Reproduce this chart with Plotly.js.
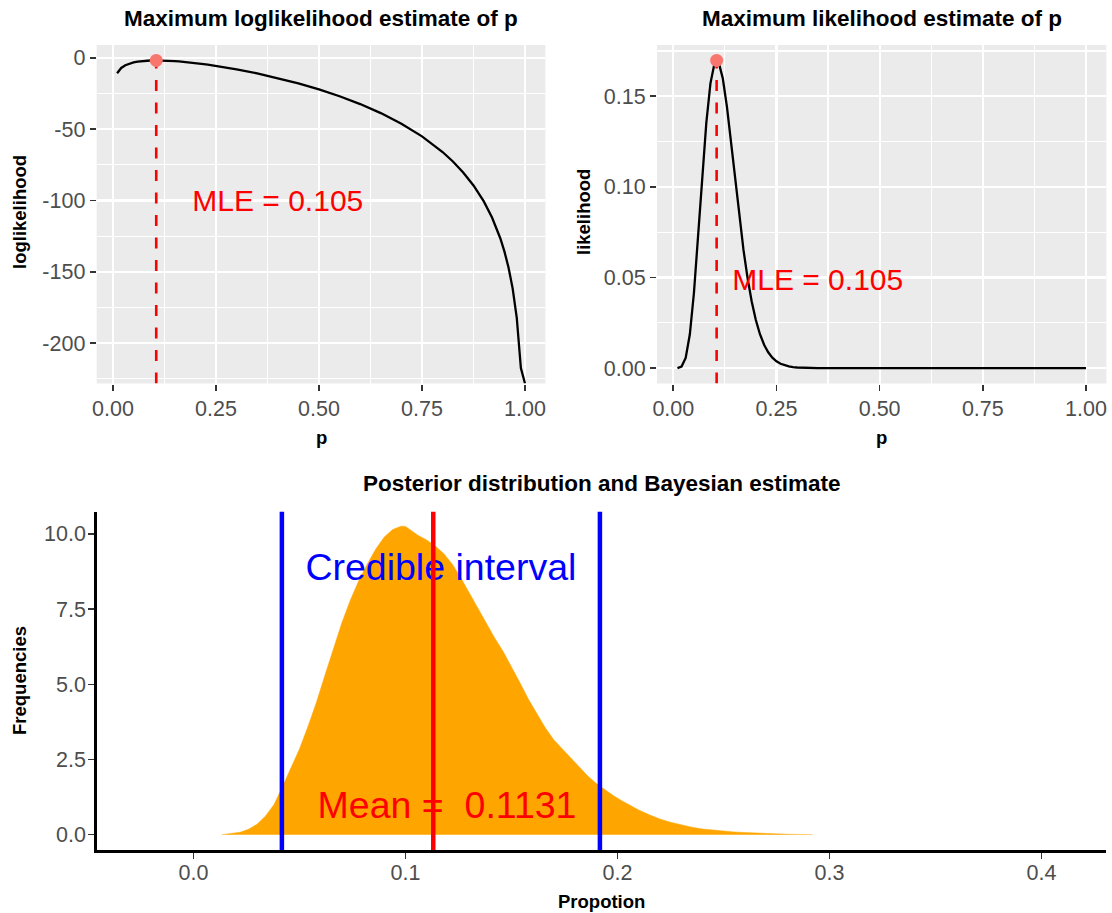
<!DOCTYPE html>
<html><head><meta charset="utf-8">
<script src="https://cdn.plot.ly/plotly-3.0.1.min.js"></script>
<style>html,body{margin:0;padding:0;background:#fff}#chart{width:1112px;height:913px}</style>
</head><body><div id="chart"></div>
<script>
// ---------- data: likelihood panels ----------
const p = [0.01,0.02,0.03,0.04,0.05,0.06,0.07,0.08,0.09,0.10,0.11,0.12,0.13,0.14,0.15,0.16,0.17,0.18,0.19,0.20,
  0.21,0.22,0.23,0.24,0.25,0.26,0.27,0.28,0.29,0.30,0.35,0.40,0.45,0.50,0.55,0.60,0.65,0.70,0.75,0.80,
  0.825,0.85,0.875,0.90,0.92,0.94,0.95,0.96,0.97,0.98,0.99,1.00];
const loglik = [-10.737,-7.095,-5.186,-3.988,-3.183,-2.629,-2.250,-2.000,-1.851,-1.782,-1.780,-1.834,-1.937,-2.082,-2.264,-2.480,-2.728,-3.003,-3.304,-3.630,
  -3.979,-4.349,-4.741,-5.152,-5.583,-6.032,-6.499,-6.984,-7.487,-8.007,-10.862,-14.143,-17.874,-22.103,-26.904,-32.389,-38.719,-46.136,-55.020,-66.013,
  -72.639,-80.321,-89.446,-100.657,-111.906,-126.448,-135.683,-147.001,-161.610,-182.227,-217.517,-Infinity];
const likelihood = [0.0000217,0.000829,0.005595,0.018535,0.041453,0.072122,0.10543,0.13536,0.15716,0.16832,0.16871,0.15979,0.14419,0.12474,0.10391,0.08371,0.06538,0.04965,0.03673,0.02652,
  0.01871,0.01292,0.008734,0.005787,0.003763,0.002401,0.001505,0.000926,0.000560,0.000333,0.000019,0.0000007,0,0,0,0,0,0,0,0,
  0,0,0,0,0,0,0,0,0,0,0,0];
const mle = 0.105;
const mleLoglik = -1.7732;
const mleLik = 0.16981;

// ---------- data: posterior panel ----------
const postX = [0.0135,0.018,0.022,0.026,0.030,0.034,0.038,0.042,0.046,0.050,0.054,0.058,0.062,0.066,0.070,0.074,0.078,0.082,0.086,0.090,
  0.094,0.098,0.100,0.103,0.106,0.110,0.114,0.118,0.122,0.126,0.130,0.134,0.138,0.142,0.146,0.150,0.154,0.158,0.162,0.166,
  0.170,0.174,0.178,0.182,0.186,0.190,0.194,0.198,0.202,0.206,0.210,0.215,0.220,0.225,0.230,0.235,0.240,0.245,0.250,0.255,
  0.260,0.265,0.270,0.275,0.280,0.285,0.292];
const postDensity = [0,0.03,0.08,0.18,0.35,0.62,1.0,1.6,2.2,2.85,3.6,4.4,5.3,6.2,7.05,7.8,8.45,9.0,9.5,9.9,
  10.15,10.26,10.25,10.1,9.95,9.8,9.6,9.35,9.0,8.55,8.05,7.5,7.0,6.55,6.1,5.6,5.05,4.5,4.0,3.55,
  3.15,2.85,2.55,2.25,1.95,1.7,1.5,1.3,1.13,0.97,0.82,0.66,0.52,0.41,0.32,0.25,0.19,0.15,0.12,0.09,
  0.07,0.05,0.035,0.025,0.015,0.008,0];
const credInterval = [0.0417, 0.1917];
const postMean = 0.1131;

// ---------- tick labels ----------
const xTickVals12 = [0, 0.25, 0.5, 0.75, 1];
const xTickText12 = ['0.00','0.25','0.50','0.75','1.00'];
const yTickVals1 = [-200,-150,-100,-50,0];
const yTickText1 = ['-200','-150','-100','-50','0'];
const yTickVals2 = [0, 0.05, 0.10, 0.15];
const yTickText2 = ['0.00','0.05','0.10','0.15'];
const xTickVals3 = [0, 0.1, 0.2, 0.3, 0.4];
const xTickText3 = ['0.0','0.1','0.2','0.3','0.4'];
const yTickVals3 = [0, 2.5, 5, 7.5, 10];
const yTickText3 = ['0.0','2.5','5.0','7.5','10.0'];

// ---------- layout settings ----------
const W = 1112, H = 913;
const FONT = 'Liberation Sans, Arial, Helvetica, sans-serif';
const xRange12 = [-0.0395, 1.0495];
const yRange1 = [-228.31, 9.01];
const yRange2 = [-0.00849, 0.1783];
const xRange3 = [-0.0455, 0.4304];
const yRange3 = [-0.51, 10.74];
const px = v => v / W;
const py = v => 1 - v / H;

const loglikPlot = loglik.map(v => v === -Infinity ? yRange1[0] : v);

function ggAxis(domain, range, tickvals, ticktext, minor0, minorStep) {
  return {
    domain, range, tickmode: 'array', tickvals, ticktext,
    ticks: 'outside', ticklen: 6, tickwidth: 1.6, tickcolor: '#333333',
    tickfont: {family: FONT, size: 21.5, color: '#4D4D4D'},
    showgrid: true, gridcolor: '#FFFFFF', gridwidth: 2.2,
    minor: {tickmode: 'linear', tick0: minor0, dtick: minorStep, showgrid: true,
            gridcolor: '#FFFFFF', gridwidth: 1.1, ticks: ''},
    zeroline: false, showline: false, fixedrange: true
  };
}
function classicAxis(domain, range, tickvals, ticktext, standoff) {
  return {
    domain, range, tickmode: 'array', tickvals, ticktext,
    ticks: 'outside', ticklen: 6, tickwidth: 1.6, tickcolor: '#333333',
    tickfont: {family: FONT, size: 21.5, color: '#4D4D4D'},
    ticklabelstandoff: standoff,
    showgrid: false, zeroline: false, showline: true, linecolor: '#000000', linewidth: 2.8,
    fixedrange: true
  };
}

const dom1x = [px(96.7), px(545.4)];
const dom2x = [px(657), px(1106.4)];
const domTopY = [py(383.5), py(45)];
const dom3x = [px(97), px(1106)];
const dom3y = [py(850), py(511.7)];

const traces = [
  {x: p, y: loglikPlot, xaxis: 'x', yaxis: 'y', mode: 'lines', line: {color: '#000000', width: 2.3}},
  {x: [mle, mle], y: [yRange1[0], mleLoglik], xaxis: 'x', yaxis: 'y', mode: 'lines',
   line: {color: '#FF0000', width: 2.6, dash: '11px,11.5px'}},
  {x: [mle], y: [mleLoglik], xaxis: 'x', yaxis: 'y', mode: 'markers', marker: {color: '#F8766D', size: 13}},
  {x: [0.4], y: [-102], xaxis: 'x', yaxis: 'y', mode: 'text', text: ['MLE = ' + mle],
   textfont: {family: FONT, size: 30, color: '#FF0000'}, textposition: 'middle center', cliponaxis: false},

  {x: p, y: likelihood, xaxis: 'x2', yaxis: 'y2', mode: 'lines', line: {color: '#000000', width: 2.3}},
  {x: [mle, mle], y: [yRange2[0], mleLik], xaxis: 'x2', yaxis: 'y2', mode: 'lines',
   line: {color: '#FF0000', width: 2.6, dash: '11px,11.5px'}},
  {x: [mle], y: [mleLik], xaxis: 'x2', yaxis: 'y2', mode: 'markers', marker: {color: '#F8766D', size: 13}},
  {x: [0.35], y: [0.0472], xaxis: 'x2', yaxis: 'y2', mode: 'text', text: ['MLE = ' + mle],
   textfont: {family: FONT, size: 30, color: '#FF0000'}, textposition: 'middle center', cliponaxis: false},

  {x: postX, y: postDensity, xaxis: 'x3', yaxis: 'y3', mode: 'lines', fill: 'tozeroy',
   fillcolor: '#FFA500', line: {color: '#FFA500', width: 0.5}},
  {x: [0.1167], y: [8.78], xaxis: 'x3', yaxis: 'y3', mode: 'text', text: ['Credible interval'],
   textfont: {family: FONT, size: 37.5, color: '#0000FF'}, textposition: 'middle center', cliponaxis: false},
  {x: [0.1196], y: [0.85], xaxis: 'x3', yaxis: 'y3', mode: 'text', text: ['Mean =\u00A0 ' + postMean],
   textfont: {family: FONT, size: 37.5, color: '#FF0000'}, textposition: 'middle center', cliponaxis: false}
];

const shapes = [
  {type: 'rect', xref: 'x domain', yref: 'y domain', x0: 0, x1: 1, y0: 0, y1: 1,
   fillcolor: '#EBEBEB', line: {width: 0}, layer: 'below'},
  {type: 'rect', xref: 'x2 domain', yref: 'y2 domain', x0: 0, x1: 1, y0: 0, y1: 1,
   fillcolor: '#EBEBEB', line: {width: 0}, layer: 'below'},
  {type: 'line', xref: 'x3', yref: 'y3 domain', x0: credInterval[0], x1: credInterval[0], y0: 0, y1: 1,
   line: {color: '#0000FF', width: 4.5}, layer: 'above'},
  {type: 'line', xref: 'x3', yref: 'y3 domain', x0: credInterval[1], x1: credInterval[1], y0: 0, y1: 1,
   line: {color: '#0000FF', width: 4.5}, layer: 'above'},
  {type: 'line', xref: 'x3', yref: 'y3 domain', x0: postMean, x1: postMean, y0: 0, y1: 1,
   line: {color: '#FF0000', width: 4.5}, layer: 'above'}
];

function ann(text, x, y, size, opts) {
  return Object.assign({text, x, y, xref: 'paper', yref: 'paper', xanchor: 'center', yanchor: 'middle',
    showarrow: false, font: {family: FONT, size, color: '#000000'}}, opts || {});
}
const annotations = [
  ann('<b>Maximum loglikelihood estimate of p</b>', px(321), py(18), 22.5),
  ann('<b>Maximum likelihood estimate of p</b>', px(881.7), py(18), 22.5),
  ann('<b>Posterior distribution and Bayesian estimate</b>', px(601.5), py(483), 22.5),
  ann('<b>loglikelihood</b>', px(19), py(212), 18.5, {textangle: -90}),
  ann('<b>likelihood</b>', px(583), py(212), 18.5, {textangle: -90}),
  ann('<b>p</b>', px(321), py(437), 18.5),
  ann('<b>p</b>', px(881.7), py(437), 18.5),
  ann('<b>Frequencies</b>', px(19), py(681), 18.5, {textangle: -90}),
  ann('<b>Propotion</b>', px(601.5), py(901), 18.5)
];

const layout = {
  width: W, height: H, margin: {l: 0, r: 0, t: 0, b: 0},
  paper_bgcolor: '#FFFFFF', plot_bgcolor: 'rgba(0,0,0,0)',
  showlegend: false, hovermode: false,
  font: {family: FONT},
  xaxis: Object.assign(ggAxis(dom1x, xRange12, xTickVals12, xTickText12, 0.125, 0.25), {anchor: 'y'}),
  yaxis: Object.assign(ggAxis(domTopY, yRange1, yTickVals1, yTickText1, -225, 50), {anchor: 'x'}),
  xaxis2: Object.assign(ggAxis(dom2x, xRange12, xTickVals12, xTickText12, 0.125, 0.25), {anchor: 'y2'}),
  yaxis2: Object.assign(ggAxis(domTopY, yRange2, yTickVals2, yTickText2, 0.025, 0.05), {anchor: 'x2'}),
  xaxis3: Object.assign(classicAxis(dom3x, xRange3, xTickVals3, xTickText3, -5), {anchor: 'y3'}),
  yaxis3: Object.assign(classicAxis(dom3y, yRange3, yTickVals3, yTickText3, -2), {anchor: 'x3'}),
  shapes, annotations
};

Plotly.newPlot('chart', traces, layout, {displayModeBar: false, staticPlot: true});
</script>
</body></html>
